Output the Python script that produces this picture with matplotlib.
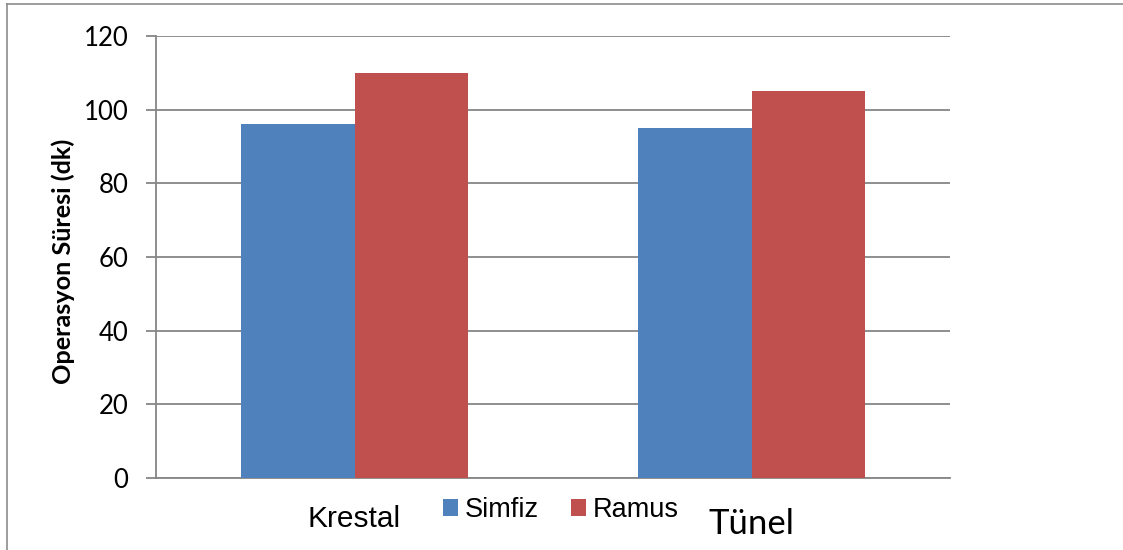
import matplotlib
matplotlib.use("Agg")
import matplotlib.pyplot as plt
from matplotlib.patches import Patch
from matplotlib.lines import Line2D

categories = ["Krestal", "Tünel"]
series_names = ["Simfiz", "Ramus"]
simfiz = [96, 95]
ramus = [110, 105]
yticks = [0, 20, 40, 60, 80, 100, 120]

blue = "#4F81BD"
red = "#C0504D"
grid_col = "#868686"

W, H = 1123, 550
fig = plt.figure(figsize=(W / 100, H / 100), dpi=100)
ax = fig.add_axes([156 / W, 1 - 478 / H, (950 - 156) / W, (478 - 36) / H])

centers = [0.5, 1.5]
bw = 1 / 3.5
ax.bar([c - bw / 2 for c in centers], simfiz, width=bw, color=blue, zorder=3)
ax.bar([c + bw / 2 for c in centers], ramus, width=bw, color=red, zorder=3)

ax.set_xlim(0, 2)
ax.set_ylim(0, 120)
ax.set_yticks(yticks)
ax.yaxis.grid(True, color=grid_col, linewidth=1.3, zorder=0)
ax.set_axisbelow(True)
ax.set_xticks([])
for s in ["top", "right"]:
    ax.spines[s].set_visible(False)
for s in ["left", "bottom"]:
    ax.spines[s].set_color(grid_col)
    ax.spines[s].set_linewidth(1.3)
ax.tick_params(axis="y", length=7, width=1.3, color=grid_col, pad=13,
               labelsize=18.5)
for lbl in ax.get_yticklabels():
    lbl.set_family("Lato")

ax.set_ylabel("Operasyon Süresi (dk)", fontsize=18.2, fontweight="bold",
              family="Lato")
ax.yaxis.set_label_coords(-0.102, 0.491)

# category labels under the axis
trans = ax.get_xaxis_transform()
ax.text(centers[0], -0.11, categories[0], transform=trans, ha="center",
        va="baseline", fontsize=21.5, family="Liberation Sans")
ax.text(centers[1], -0.127, categories[1], transform=trans, ha="center",
        va="baseline", fontsize=25, family="Lato")

handles = [Patch(facecolor=blue, edgecolor="none"),
           Patch(facecolor=red, edgecolor="none")]
fig.legend(handles, series_names, loc="center",
           bbox_to_anchor=(561 / W, 1 - 510 / H), ncol=2, frameon=False,
           prop={"family": "Liberation Sans", "size": 19.5},
           handlelength=0.55, handleheight=0.55, handletextpad=0.25,
           columnspacing=1.2, borderpad=0)

# outer frame lines
fig.add_artist(Line2D([7 / W, 7 / W], [0, 1 - 4 / H], transform=fig.transFigure,
                      color="#8c8c8c", linewidth=1.2))
fig.add_artist(Line2D([7 / W, 1], [1 - 4 / H, 1 - 4 / H], transform=fig.transFigure,
                      color="#8c8c8c", linewidth=1.2))

fig.savefig("out.png", dpi=100, facecolor="white")
